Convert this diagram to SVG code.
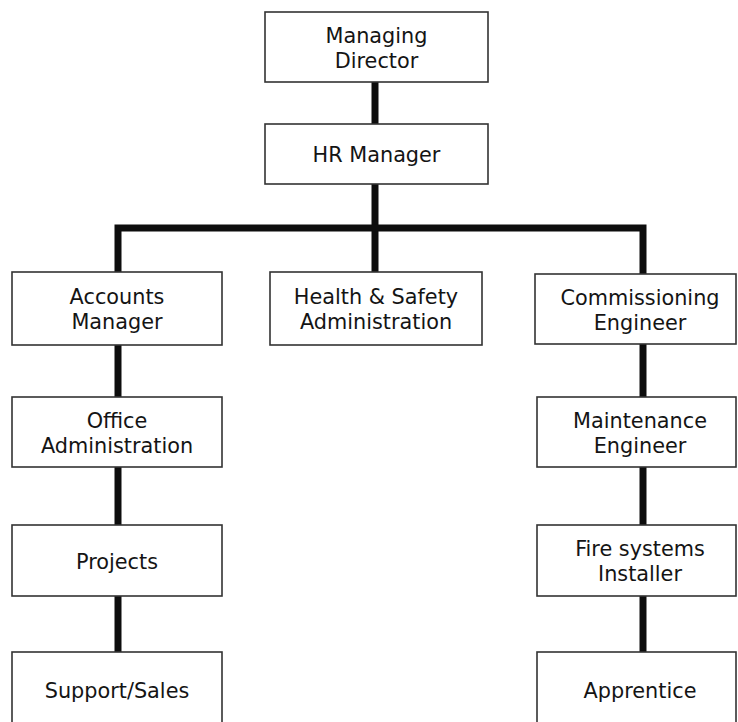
<svg xmlns="http://www.w3.org/2000/svg" width="738" height="722" viewBox="0 0 738 722">
  <style>
    .box { fill: #ffffff; stroke: #333333; stroke-width: 1.6; }
    .lbl { font-family: "DejaVu Sans", Verdana, sans-serif; font-size: 20.8px; fill: #141414; text-anchor: middle; }
    .link { fill: none; stroke: #0d0d0d; stroke-width: 7; stroke-linejoin: miter; stroke-linecap: butt; }
  </style>
  <rect width="738" height="722" fill="#ffffff"/>

  <!-- connectors -->
  <g id="connectors">
    <path class="link" d="M375 82 V124"/>
    <path class="link" d="M375 184 V272"/>
    <path class="link" d="M118 272 V228 H643 V274"/>
    <path class="link" d="M118 345 V397"/>
    <path class="link" d="M118 467 V525"/>
    <path class="link" d="M118 596 V652"/>
    <path class="link" d="M643 344 V397"/>
    <path class="link" d="M643 467 V525"/>
    <path class="link" d="M643 596 V652"/>
  </g>

  <!-- top of the chart -->
  <g id="managing-director">
    <rect class="box" x="265" y="12" width="223" height="70"/>
    <text class="lbl" x="376.5" y="42.5">Managing</text>
    <text class="lbl" x="376.5" y="67.5">Director</text>
  </g>
  <g id="hr-manager">
    <rect class="box" x="265" y="124" width="223" height="60"/>
    <text class="lbl" x="376.5" y="162">HR Manager</text>
  </g>

  <!-- second tier -->
  <g id="accounts-manager">
    <rect class="box" x="12" y="272" width="210" height="73"/>
    <text class="lbl" x="117" y="304">Accounts</text>
    <text class="lbl" x="117" y="329">Manager</text>
  </g>
  <g id="health-safety">
    <rect class="box" x="270" y="272" width="212" height="73"/>
    <text class="lbl" x="376" y="304">Health &amp; Safety</text>
    <text class="lbl" x="376" y="329">Administration</text>
  </g>
  <g id="commissioning-engineer">
    <rect class="box" x="535" y="274" width="201" height="70"/>
    <text class="lbl" x="640" y="304.5">Commissioning</text>
    <text class="lbl" x="640" y="329.5">Engineer</text>
  </g>

  <!-- accounts branch -->
  <g id="office-administration">
    <rect class="box" x="12" y="397" width="210" height="70"/>
    <text class="lbl" x="117" y="427.5">Office</text>
    <text class="lbl" x="117" y="452.5">Administration</text>
  </g>
  <g id="projects">
    <rect class="box" x="12" y="525" width="210" height="71"/>
    <text class="lbl" x="117" y="568.5">Projects</text>
  </g>
  <g id="support-sales">
    <rect class="box" x="12" y="652" width="210" height="90"/>
    <text class="lbl" x="117" y="697.5">Support/Sales</text>
  </g>

  <!-- engineering branch -->
  <g id="maintenance-engineer">
    <rect class="box" x="537" y="397" width="199" height="70"/>
    <text class="lbl" x="640" y="427.5">Maintenance</text>
    <text class="lbl" x="640" y="452.5">Engineer</text>
  </g>
  <g id="fire-systems-installer">
    <rect class="box" x="537" y="525" width="199" height="71"/>
    <text class="lbl" x="640" y="556">Fire systems</text>
    <text class="lbl" x="640" y="581">Installer</text>
  </g>
  <g id="apprentice">
    <rect class="box" x="537" y="652" width="199" height="90"/>
    <text class="lbl" x="640" y="697.5">Apprentice</text>
  </g>
</svg>
